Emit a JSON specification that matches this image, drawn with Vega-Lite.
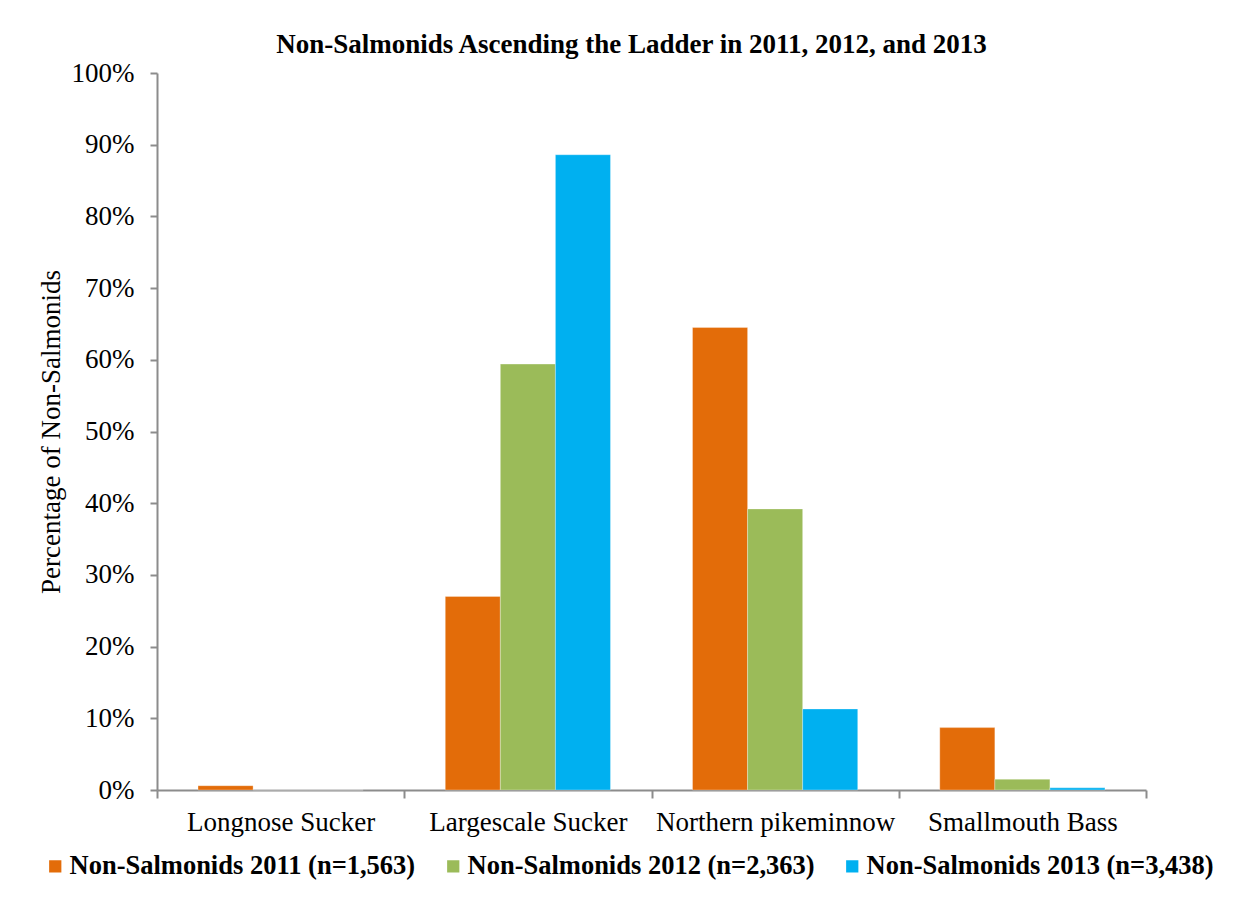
{
  "$schema": "https://vega.github.io/schema/vega-lite/v6.json",
  "width": 989,
  "height": 717,
  "autosize": {"type": "none"},
  "padding": {"left": 157, "top": 73, "right": 104, "bottom": 119},
  "background": "white",
  "title": {
    "text": "Non-Salmonids Ascending the Ladder in 2011, 2012, and 2013",
    "font": "Liberation Serif",
    "fontSize": 27,
    "fontWeight": "bold",
    "color": "black",
    "anchor": "middle",
    "dx": -20,
    "offset": 0
  },
  "data": {
    "values": [
      {"species": "Longnose Sucker", "series": "Non-Salmonids 2011 (n=1,563)", "pct": 0.6},
      {"species": "Longnose Sucker", "series": "Non-Salmonids 2012 (n=2,363)", "pct": 0},
      {"species": "Longnose Sucker", "series": "Non-Salmonids 2013 (n=3,438)", "pct": 0},
      {"species": "Largescale Sucker", "series": "Non-Salmonids 2011 (n=1,563)", "pct": 27.0},
      {"species": "Largescale Sucker", "series": "Non-Salmonids 2012 (n=2,363)", "pct": 59.4},
      {"species": "Largescale Sucker", "series": "Non-Salmonids 2013 (n=3,438)", "pct": 88.6},
      {"species": "Northern pikeminnow", "series": "Non-Salmonids 2011 (n=1,563)", "pct": 64.5},
      {"species": "Northern pikeminnow", "series": "Non-Salmonids 2012 (n=2,363)", "pct": 39.2},
      {"species": "Northern pikeminnow", "series": "Non-Salmonids 2013 (n=3,438)", "pct": 11.3},
      {"species": "Smallmouth Bass", "series": "Non-Salmonids 2011 (n=1,563)", "pct": 8.7},
      {"species": "Smallmouth Bass", "series": "Non-Salmonids 2012 (n=2,363)", "pct": 1.5},
      {"species": "Smallmouth Bass", "series": "Non-Salmonids 2013 (n=3,438)", "pct": 0.3}
    ]
  },
  "mark": {"type": "bar", "stroke": "white", "strokeWidth": 0.6, "strokeOpacity": 0.5},
  "encoding": {
    "x": {
      "field": "species",
      "type": "nominal",
      "sort": ["Longnose Sucker", "Largescale Sucker", "Northern pikeminnow", "Smallmouth Bass"],
      "scale": {"paddingInner": 0, "paddingOuter": 0},
      "axis": {
        "title": null,
        "labelAngle": 0,
        "labelFont": "Liberation Serif",
        "labelFontSize": 27,
        "labelColor": "black",
        "labelPadding": 11,
        "labelLimit": 0,
        "tickBand": "extent",
        "tickSize": 8,
        "tickColor": "#8c8c8c",
        "tickWidth": 2,
        "domainColor": "#8c8c8c",
        "domainWidth": 2,
        "grid": false
      }
    },
    "xOffset": {
      "field": "series",
      "type": "nominal",
      "scale": {"paddingInner": 0, "paddingOuter": 0.745}
    },
    "y": {
      "field": "pct",
      "type": "quantitative",
      "scale": {"domain": [0, 100], "nice": false},
      "axis": {
        "title": "Percentage of Non-Salmonids",
        "titleFont": "Liberation Serif",
        "titleFontSize": 27,
        "titleFontWeight": "normal",
        "titleColor": "black",
        "titlePadding": 6,
        "values": [0, 10, 20, 30, 40, 50, 60, 70, 80, 90, 100],
        "labelExpr": "datum.value + '%'",
        "labelFont": "Liberation Serif",
        "labelFontSize": 27,
        "labelColor": "black",
        "labelPadding": 16,
        "tickSize": 7,
        "tickColor": "#8c8c8c",
        "tickWidth": 2,
        "domainColor": "#8c8c8c",
        "domainWidth": 2,
        "grid": false
      }
    },
    "color": {
      "field": "series",
      "type": "nominal",
      "scale": {
        "domain": ["Non-Salmonids 2011 (n=1,563)", "Non-Salmonids 2012 (n=2,363)", "Non-Salmonids 2013 (n=3,438)"],
        "range": ["#E36C09", "#9BBB59", "#00B0F0"]
      },
      "legend": {
        "title": null,
        "orient": "none",
        "legendX": -115,
        "legendY": 780,
        "direction": "horizontal",
        "columns": 3,
        "columnPadding": 24,
        "symbolType": "square",
        "symbolSize": 150,
        "symbolStrokeWidth": 0,
        "labelFont": "Liberation Serif",
        "labelFontSize": 26.5,
        "labelFontWeight": "bold",
        "labelColor": "black",
        "labelLimit": 0,
        "labelOffset": 1
      }
    }
  },
  "config": {"view": {"stroke": null}}
}
